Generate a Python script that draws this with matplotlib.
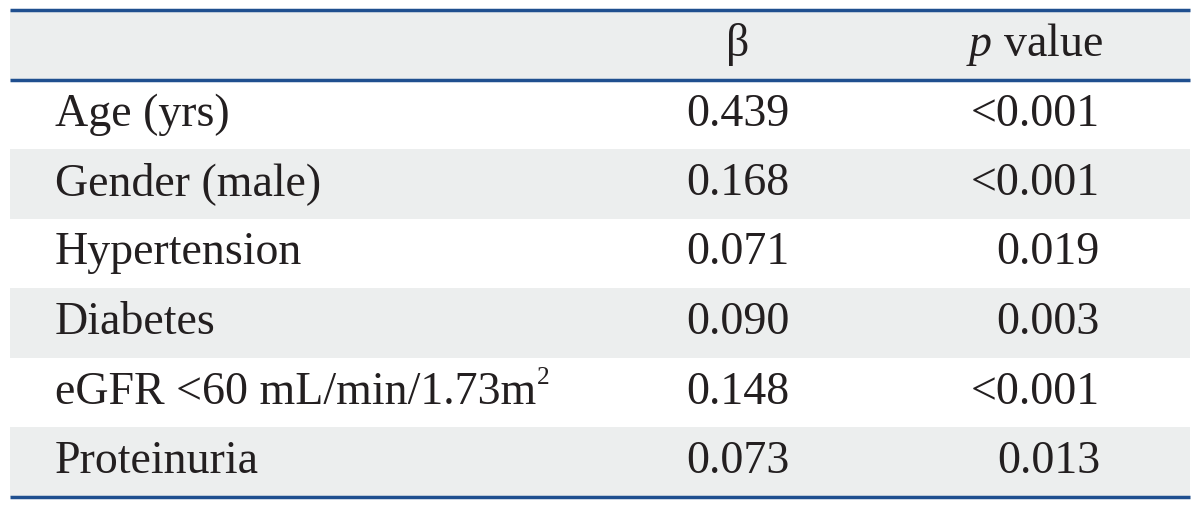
import matplotlib
matplotlib.use("Agg")
import matplotlib.pyplot as plt
from matplotlib.patches import Rectangle

# table contents
variables = ["Age (yrs)", "Gender (male)", "Hypertension", "Diabetes",
             "eGFR <60 mL/min/1.73m", "Proteinuria"]
superscripts = ["", "", "", "", "2", ""]
beta = ["0.439", "0.168", "0.071", "0.090", "0.148", "0.073"]
p_values = ["<0.001", "<0.001", "0.019", "0.003", "<0.001", "0.013"]

line_color = "#1f4f8f"
band_color = "#eceeee"
text_color = "#231f20"

plt.rcParams["font.family"] = ["Liberation Serif", "DejaVu Serif"]
plt.rcParams["mathtext.fontset"] = "custom"
plt.rcParams["mathtext.rm"] = "Liberation Serif"
plt.rcParams["mathtext.it"] = "Liberation Serif:italic"

fig = plt.figure(figsize=(12, 5.08), dpi=100)
ax = fig.add_axes([0, 0, 1, 1])
ax.set_xlim(0, 1200)
ax.set_ylim(508, 0)
ax.axis("off")

left, right = 10, 1190
top, row_h = 10, 69.5
fs = 33

# header band
ax.add_patch(Rectangle((left, top), right - left, row_h, color=band_color, lw=0))
hy = top + row_h / 2
ax.text(738, hy, "β", ha="center", va="center", fontsize=fs, color=text_color)
ax.text(1103, hy, "$p$ value", ha="right", va="center", fontsize=fs, color=text_color)

renderer = fig.canvas.get_renderer()
for i, (var, sup, b, p) in enumerate(zip(variables, superscripts, beta, p_values)):
    y0 = top + row_h * (i + 1)
    if i % 2 == 1:
        ax.add_patch(Rectangle((left, y0), right - left, row_h, color=band_color, lw=0))
    yc = y0 + row_h / 2
    t = ax.text(55, yc, var, ha="left", va="center", fontsize=fs, color=text_color)
    if sup:
        bb = t.get_window_extent(renderer).transformed(ax.transData.inverted())
        ax.text(bb.x1 + 1, yc - 14, sup, ha="left", va="center",
                fontsize=fs * 0.55, color=text_color)
    ax.text(738, yc, b, ha="center", va="center", fontsize=fs, color=text_color)
    ax.text(1100, yc, p, ha="right", va="center", fontsize=fs, color=text_color)

bottom = top + row_h * (len(variables) + 1)
for y in [top, top + row_h, bottom]:
    ax.plot([left, right], [y, y], color=line_color, lw=2.5, solid_capstyle="butt")

fig.savefig("out.png", dpi=100)
